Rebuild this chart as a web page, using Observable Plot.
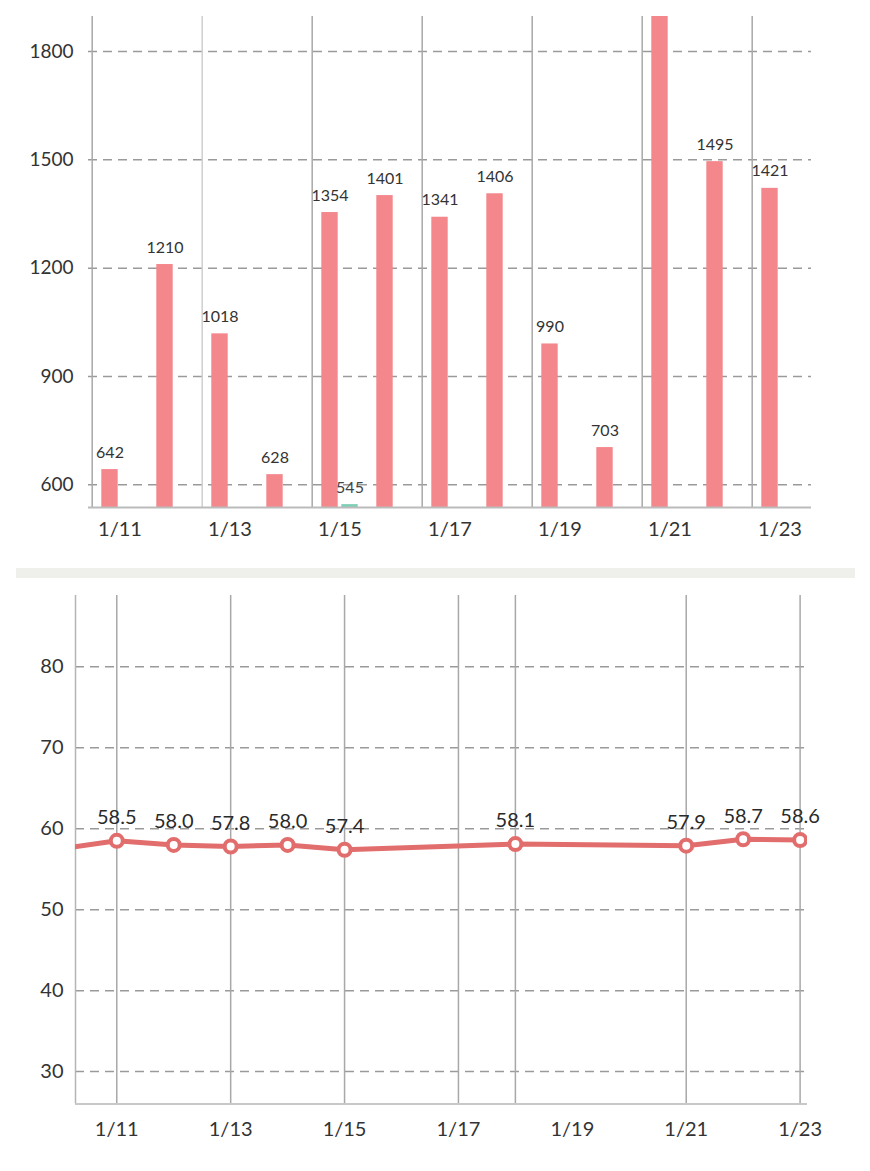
<!DOCTYPE html>
<html><head><meta charset="utf-8">
<script src="https://cdn.jsdelivr.net/npm/d3@7"></script>
<script src="https://cdn.jsdelivr.net/npm/@observablehq/plot@0.6"></script>
<style>
html,body{margin:0;padding:0;background:#fff;}
svg{display:block;}
.sep{height:10px;margin-left:16px;width:839px;background:#efefeb;}
</style></head><body>
<div id="top"></div><div class="sep"></div><div id="bottom"></div>
<script>
// ---- Top chart data (calories) ----
const days = ["1/11","1/12","1/13","1/14","1/15","1/16","1/17","1/18","1/19","1/20","1/21","1/22","1/23"];
const calories = [642,1210,1018,628,1354,1401,1341,1406,990,703,1960,1495,1421];
const exerciseDays = ["1/15"];
const exerciseValues = [545];
const barXTicks = ["1/11","1/13","1/15","1/17","1/19","1/21","1/23"];
const barYTicks = [600,900,1200,1500,1800];
const barYDomain = [537,1897];

// ---- Bottom chart data (weight) ----
const weightDays = ["1/10","1/11","1/12","1/13","1/14","1/15","1/18","1/21","1/22","1/23"];
const weightValues = [57.5,58.5,58.0,57.8,58.0,57.4,58.1,57.9,58.7,58.6];
const weightXTicks = ["1/11","1/13","1/15","1/17","1/19","1/21","1/23"];
const weightRuleDays = ["1/11","1/13","1/15","1/17","1/18","1/21","1/23"];
const weightYTicks = [30,40,50,60,70,80];
const weightXDomain = [10.275, 23.13];
const weightYDomain = [26, 88.8];

const FONT = "Lato, 'Noto Sans', sans-serif";
const W = 870;

// ---- Top chart ----
const mL = 88, mR = 59;
const bw = (W - mL - mR) / days.length;
const barW = 17, off = 10;
const calData = days.map((d, i) => ({day: d, v: calories[i]}));
const exData = exerciseDays.map((d, i) => ({day: d, v: exerciseValues[i]}));
const dash = {stroke: "#9a9a9a", strokeWidth: 1.5, strokeDasharray: "9,6"};

const topChart = Plot.plot({
  width: W, height: 568,
  marginLeft: mL, marginRight: mR, marginTop: 16, marginBottom: 61,
  style: {fontFamily: FONT, color: "#333", background: "#fff"},
  x: {type: "band", domain: days, padding: 0},
  y: {domain: barYDomain},
  marks: [
    Plot.ruleY(barYTicks, dash),
    Plot.ruleX(barXTicks, {x: d => d, dx: -bw / 2, stroke: d => d === "1/13" ? "#cfcfcf" : "#a8a8a8", strokeWidth: 1.5}),
    Plot.barY(calData, {x: "day", y: "v", fill: "#f4878c",
      insetLeft: bw / 2 - off - barW / 2, insetRight: bw / 2 + off - barW / 2, clip: true}),
    Plot.barY(exData, {x: "day", y: "v", fill: "#7fcfb6",
      insetLeft: bw / 2 + off - barW / 2, insetRight: bw / 2 - off - barW / 2, clip: true}),
    Plot.text(calData.filter(d => d.v < barYDomain[1] - 60), {x: "day", y: "v", text: d => String(d.v), dx: -off, dy: -17,
      fontSize: 16, fill: "#333"}),
    Plot.text(exData, {x: "day", y: "v", text: d => String(d.v), dx: off, dy: -17,
      fontSize: 16, fill: "#444"}),
    Plot.ruleY([barYDomain[0]], {stroke: "#bbb", strokeWidth: 2}),
    Plot.axisY({ticks: barYTicks, tickFormat: d => String(d), tickSize: 0, tickPadding: 15, fontSize: 19, label: null}),
    Plot.axisX({ticks: barXTicks, tickSize: 0, tickPadding: 14, fontSize: 20, label: null})
  ]
});
document.getElementById("top").appendChild(topChart);

// ---- Bottom chart ----
const parseDay = s => +s.split("/")[1];
const wData = weightDays.map((d, i) => ({day: parseDay(d), v: weightValues[i]}));
const lineColor = "#e26d6d";

const bottomChart = Plot.plot({
  width: W, height: 593,
  marginLeft: 75, marginRight: 63, marginTop: 17, marginBottom: 67.5,
  style: {fontFamily: FONT, color: "#333", background: "#fff"},
  x: {domain: weightXDomain},
  y: {domain: weightYDomain},
  marks: [
    Plot.ruleY(weightYTicks, dash),
    Plot.ruleX(weightRuleDays.map(parseDay), {stroke: "#a8a8a8", strokeWidth: 1.5}),
    Plot.ruleX([weightXDomain[0]], {stroke: "#b5b5b5", strokeWidth: 1.5}),
    Plot.ruleY([weightYDomain[0]], {stroke: "#c8c8c8", strokeWidth: 2}),
    Plot.line(wData, {x: "day", y: "v", stroke: lineColor, strokeWidth: 5, clip: true}),
    Plot.dot(wData, {x: "day", y: "v", r: 6, fill: "#fff", stroke: lineColor, strokeWidth: 4, clip: true}),
    Plot.text(wData.filter(d => d.day >= weightXDomain[0]), {x: "day", y: "v",
      text: d => d.v.toFixed(1), dy: -23, fontSize: 20, fill: "#2a2a2a"}),
    Plot.axisY({ticks: weightYTicks, tickSize: 0, tickPadding: 12, fontSize: 20, label: null}),
    Plot.axisX({ticks: weightXTicks.map(parseDay), tickFormat: d => `1/${d}`,
      tickSize: 0, tickPadding: 18, fontSize: 20, label: null})
  ]
});
document.getElementById("bottom").appendChild(bottomChart);
</script>
</body></html>
